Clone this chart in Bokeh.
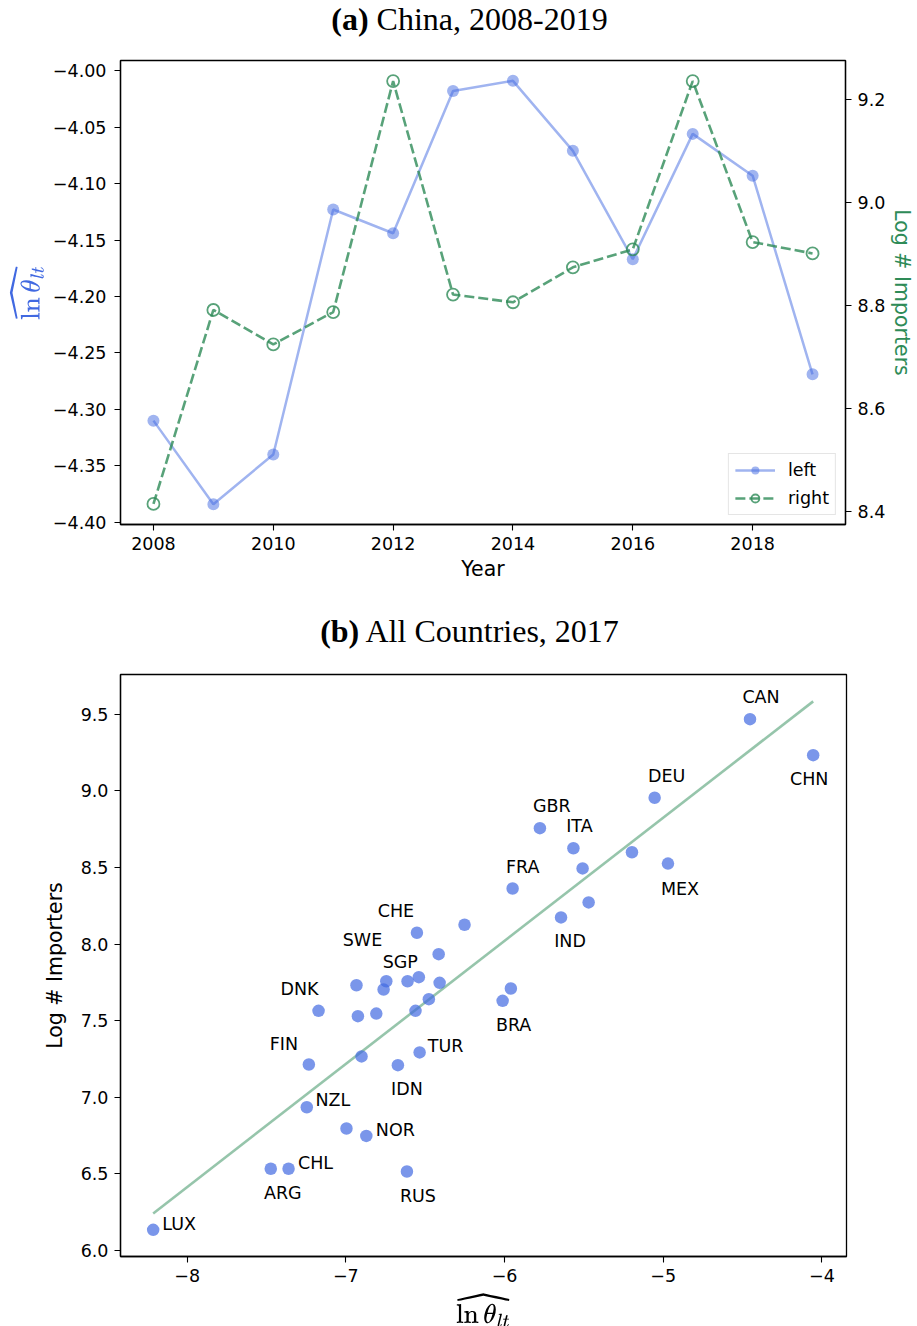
import numpy as np
from bokeh.plotting import figure
from bokeh.models import (Range1d, LinearAxis, FixedTicker, CustomJSTickFormatter,
                          Legend, LegendItem, ColumnDataSource, Div)
from bokeh.layouts import column
from bokeh.embed import file_html
from bokeh.resources import INLINE
from bokeh.core.properties import value

# ---------------- data: panel (a) China 2008-2019 ----------------
years = [2008, 2009, 2010, 2011, 2012, 2013, 2014, 2015, 2016, 2017, 2018, 2019]
ln_theta_china = [-4.310, -4.384, -4.340, -4.123, -4.144, -4.018,
                  -4.009, -4.071, -4.167, -4.056, -4.093, -4.269]
log_importers_china = [8.414, 8.791, 8.724, 8.787, 9.236, 8.821,
                       8.806, 8.874, 8.909, 9.236, 8.923, 8.901]
year_ticks = [2008, 2010, 2012, 2014, 2016, 2018]
left_ticks = [-4.40, -4.35, -4.30, -4.25, -4.20, -4.15, -4.10, -4.05, -4.00]
right_ticks = [8.4, 8.6, 8.8, 9.0, 9.2]

# ---------------- data: panel (b) All countries 2017 ----------------
country = ["CAN", "CHN", "DEU", "GBR", "ITA", "", "", "MEX", "FRA", "", "IND", "",
           "CHE", "", "SGP", "", "", "", "SWE", "", "DNK", "", "", "", "", "",
           "BRA", "FIN", "", "IDN", "TUR", "NZL", "", "NOR", "ARG", "CHL", "RUS", "LUX"]
ln_theta_2017 = [-4.453, -4.055, -5.054, -5.777, -5.566, -5.508, -5.197, -4.970, -5.949,
                 -5.470, -5.644, -6.252, -6.552, -6.415, -6.745, -6.611, -6.540, -6.409,
                 -6.933, -6.762, -7.172, -6.924, -6.808, -6.561, -6.477, -5.960, -6.012,
                 -7.233, -6.901, -6.672, -6.535, -7.246, -6.996, -6.871, -7.473, -7.361,
                 -6.615, -8.214]
log_importers_2017 = [9.469, 9.234, 8.956, 8.757, 8.626, 8.494, 8.600, 8.526, 8.363,
                      8.272, 8.174, 8.126, 8.074, 7.934, 7.757, 7.757, 7.784, 7.747,
                      7.731, 7.703, 7.564, 7.529, 7.546, 7.564, 7.640, 7.710, 7.629,
                      7.213, 7.266, 7.209, 7.292, 6.934, 6.795, 6.747, 6.532, 6.532,
                      6.514, 6.133]
x_ticks_b = [-8, -7, -6, -5, -4]
y_ticks_b = [6.0, 6.5, 7.0, 7.5, 8.0, 8.5, 9.0, 9.5]

# ---------------- styles ----------------
FONT = "DejaVu Sans"
BLUE = "#4169E1"
GREEN = "#2E8B57"
TICK_FS = "17.5px"
LABEL_FS = "20.5px"
# label offsets (screen px, y down) relative to the point
label_offsets = {
    "CAN": (11, -22), "CHN": (-4, 24), "DEU": (12, -22), "GBR": (12, -22),
    "ITA": (6, -22), "MEX": (12, 25), "FRA": (10, -22), "IND": (9, 24),
    "CHE": (-21, -22), "SWE": (6, -45), "SGP": (14, -19), "DNK": (-19, -22),
    "BRA": (11, 24), "FIN": (-25, -21), "IDN": (9, 24), "TUR": (26, -6),
    "NZL": (26, -7), "NOR": (29, -6), "CHL": (27, -6), "ARG": (12, 24),
    "RUS": (11, 24), "LUX": (26, -6), "": (0, 0),
}


def minus_fmt(dec):
    return CustomJSTickFormatter(
        code="return tick.toFixed(%d).replace('-', '\u2212');" % dec)


def style_axis(ax, fmt_dec, ticks):
    ax.ticker = FixedTicker(ticks=ticks)
    ax.formatter = minus_fmt(fmt_dec)
    ax.major_label_text_font = FONT
    ax.major_label_text_font_size = TICK_FS
    ax.major_label_text_color = "black"
    ax.axis_label_text_font = FONT
    ax.axis_label_text_font_size = LABEL_FS
    ax.axis_label_text_font_style = "normal"
    ax.axis_label_text_color = "black"
    ax.axis_line_color = "black"
    ax.axis_line_width = 1.3
    ax.major_tick_line_color = "black"
    ax.major_tick_line_width = 1.1
    ax.major_tick_out = 6
    ax.major_tick_in = 0
    ax.minor_tick_line_color = None


# ---------------- panel (a) ----------------
title_style = {"font-family": "Liberation Serif", "font-size": "32px",
               "text-align": "center", "line-height": "1.1", "color": "black"}
div_a = Div(text="<b>(a)</b> China, 2008-2019", width=917, height=50, margin=0,
            styles=dict(title_style, **{"padding-top": "2px", "padding-left": "22px"}))

p1 = figure(frame_width=725, frame_height=464, output_backend="svg", toolbar_location=None,
            x_range=Range1d(2007.45, 2019.55), y_range=Range1d(-4.402, -3.991),
            min_border_left=120, min_border_right=60, min_border_top=10,
            min_border_bottom=76, margin=0)
p1.extra_y_ranges = {"right": Range1d(8.374, 9.276)}
p1.xgrid.visible = False
p1.ygrid.visible = False
p1.outline_line_color = "black"
p1.outline_line_width = 1.3

style_axis(p1.xaxis[0], 0, year_ticks)
p1.xaxis[0].formatter = CustomJSTickFormatter(code="return tick.toFixed(0);")
p1.xaxis[0].axis_label = "Year"
p1.xaxis[0].major_label_standoff = 6
p1.xaxis[0].axis_label_standoff = 4

style_axis(p1.yaxis[0], 2, left_ticks)
p1.yaxis[0].axis_label = r"$$\widehat{\ln \theta_{lt}}$$"
p1.yaxis[0].axis_label_text_color = BLUE
p1.yaxis[0].major_label_standoff = 8
p1.yaxis[0].axis_label_standoff = 6

right_axis = LinearAxis(y_range_name="right", axis_label="Log # Importers")
style_axis(right_axis, 1, right_ticks)
right_axis.axis_label_text_color = GREEN
right_axis.major_label_standoff = 6
right_axis.axis_label_standoff = 2
p1.add_layout(right_axis, "right")

l1 = p1.line(years, ln_theta_china, line_color=BLUE, line_alpha=0.5, line_width=2.5)
s1 = p1.scatter(years, ln_theta_china, size=12, fill_color=BLUE, fill_alpha=0.5,
                line_color=None)
l2 = p1.line(years, log_importers_china, y_range_name="right", line_color=GREEN,
             line_alpha=0.8, line_width=2.6, line_dash="10 4")
s2 = p1.scatter(years, log_importers_china, y_range_name="right", size=12,
                fill_color=None, line_color=GREEN, line_alpha=0.8, line_width=1.8)

legend = Legend(items=[LegendItem(label="left", renderers=[l1, s1]),
                       LegendItem(label="right", renderers=[l2, s2])],
                location="bottom_right", glyph_width=40, glyph_height=20,
                label_height=20, label_text_font=FONT, label_text_font_size=TICK_FS,
                label_text_color="black",
                padding=6, spacing=8, label_standoff=13, margin=9,
                border_line_color="#cccccc", border_line_width=1.2,
                background_fill_alpha=0.8)
p1.add_layout(legend)

# ---------------- panel (b) ----------------
div_b = Div(text="<b>(b)</b> All Countries, 2017", width=917, height=60, margin=0,
            styles=dict(title_style, **{"padding-top": "14px", "padding-left": "22px"}))

p2 = figure(frame_width=726, frame_height=582, output_backend="svg", toolbar_location=None,
            x_range=Range1d(-8.42, -3.845), y_range=Range1d(5.959, 9.761),
            min_border_left=120, min_border_right=60, min_border_top=14,
            min_border_bottom=70, margin=0)
p2.xgrid.visible = False
p2.ygrid.visible = False
p2.outline_line_color = "black"
p2.outline_line_width = 1.3

style_axis(p2.xaxis[0], 0, x_ticks_b)
p2.xaxis[0].axis_label = r"$$\widehat{\ln \theta_{lt}}$$"
p2.xaxis[0].major_label_standoff = 6
p2.xaxis[0].axis_label_standoff = 6
style_axis(p2.yaxis[0], 1, y_ticks_b)
p2.yaxis[0].axis_label = "Log # Importers"
p2.yaxis[0].major_label_standoff = 6
p2.yaxis[0].axis_label_standoff = 11

xs = np.array(ln_theta_2017)
ys = np.array(log_importers_2017)
slope, intercept = np.polyfit(xs, ys, 1)
fit_x = np.array([xs.min(), xs.max()])
p2.line(fit_x, slope * fit_x + intercept, line_color=GREEN, line_alpha=0.5, line_width=2.6)

src = ColumnDataSource(dict(
    x=ln_theta_2017, y=log_importers_2017, name=country,
    dx=[label_offsets[c][0] for c in country],
    dy=[label_offsets[c][1] for c in country]))
p2.scatter("x", "y", source=src, size=12.5, fill_color=BLUE, fill_alpha=0.7, line_color=None)
p2.text("x", "y", text="name", source=src, x_offset="dx", y_offset="dy",
        text_align="center", text_baseline="middle", text_font=value(FONT),
        text_font_size="17.5px", text_color="black")

layout = column(div_a, p1, div_b, p2, spacing=0)
open("out.html", "w").write(file_html(layout, INLINE))
